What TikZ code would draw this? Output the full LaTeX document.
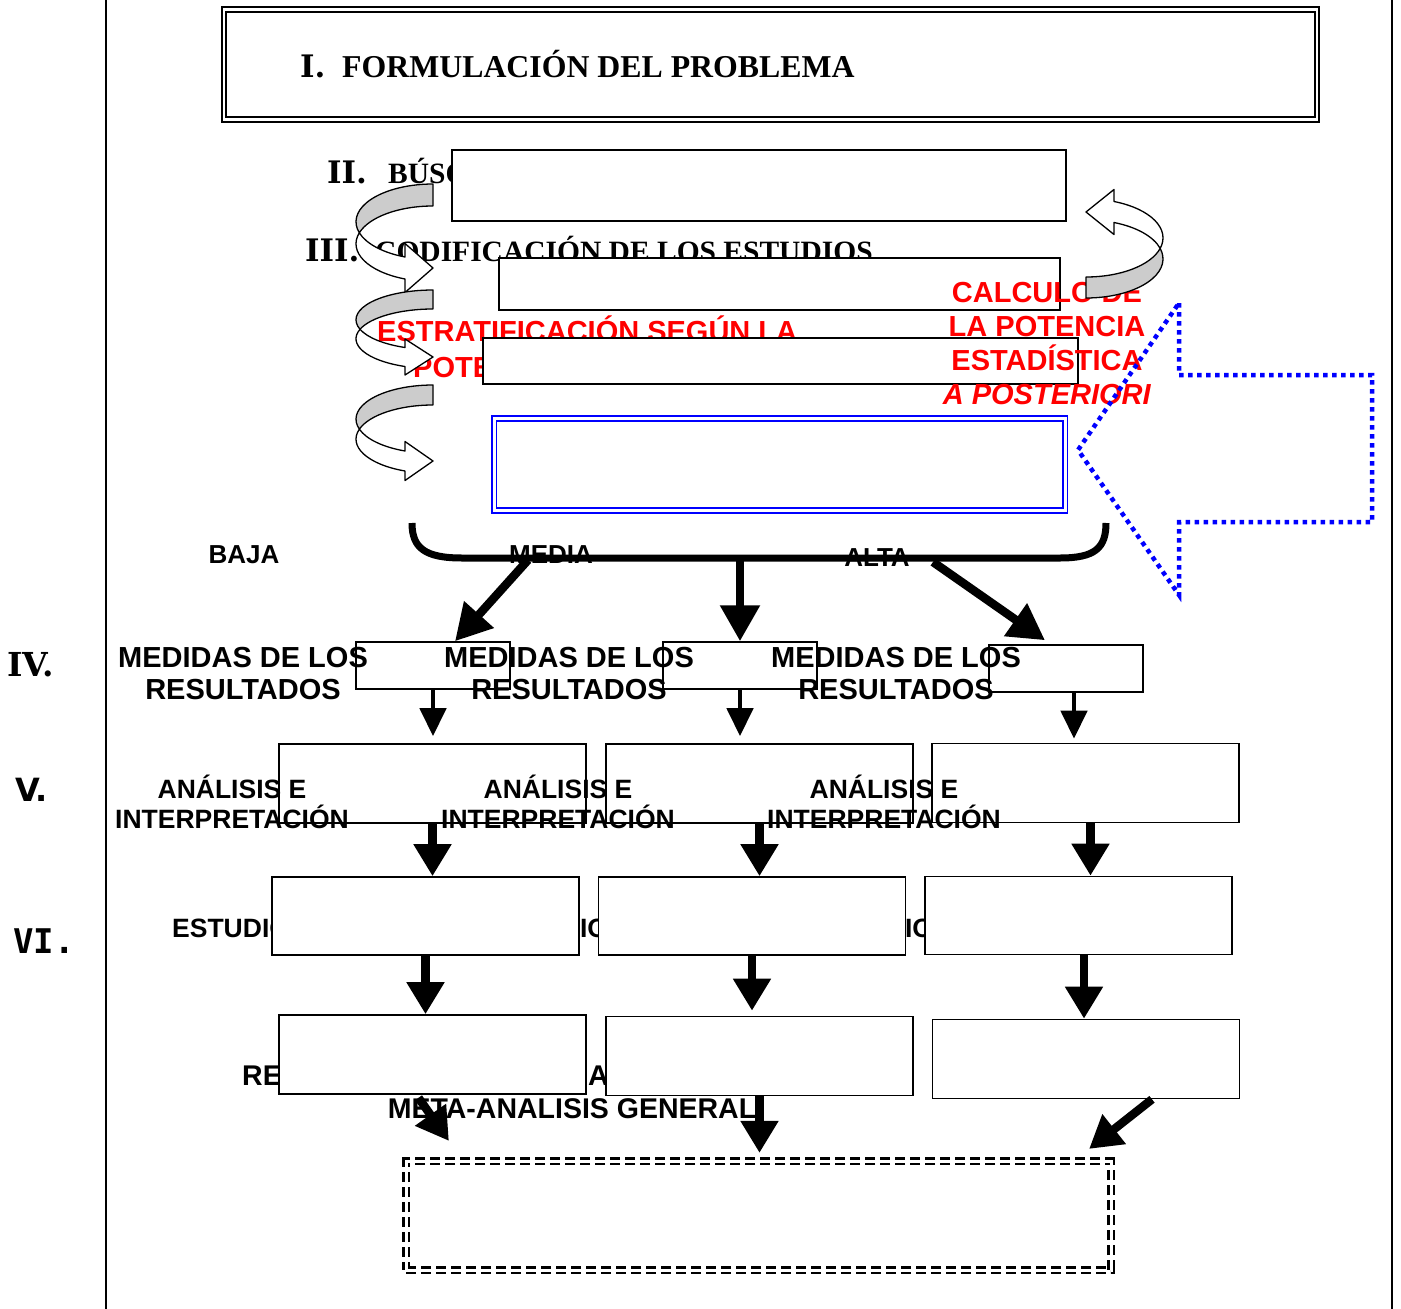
\documentclass[tikz,border=0pt]{standalone}
\usepackage{fontspec}
\setmainfont{Liberation Serif}
\setsansfont{Liberation Sans}
\newfontfamily\numserif{DejaVu Serif}
\newfontfamily\numsans{DejaVu Sans}
\newfontfamily\nummono{DejaVu Sans Mono}
\usetikzlibrary{arrows.meta}

\tikzset{
  frame/.style={draw=black, fill=white, line width=1.8pt, inner sep=0pt},
  cell/.style={frame, line width=1.6pt, minimum width=307pt, minimum height=79pt},
  small/.style={frame, line width=1.5pt, minimum width=154pt, minimum height=47pt},
  numtxt/.style={anchor=base west, inner sep=0pt, font=\numserif\bfseries\fontsize{31}{36}\selectfont},
  headtxt/.style={anchor=base west, inner sep=0pt, font=\bfseries\fontsize{29.5}{34}\selectfont},
  redtxt/.style={text=red, inner sep=0pt, font=\sffamily\bfseries\fontsize{29}{34}\selectfont},
  lbl/.style={inner sep=0pt, align=center, font=\sffamily\bfseries\fontsize{26.5}{30}\selectfont},
  bigarrow/.style={line width=8.5pt, -{Triangle[width=36pt,length=32pt]}},
  smallarrow/.style={line width=4.5pt, -{Triangle[width=26pt,length=28pt]}},
  bentline/.style={draw=black, line width=1.3pt, line join=round},
}

% curved block arrow: #1 tip offset, #2 band width, #3 half head
\newcommand{\bentarrow}[3]{%
  \pgfmathsetmacro{\bnb}{(#1-#2/2)/1.9315}
  \pgfmathsetmacro{\bna}{asin(#2/(2*\bnb))}
  \pgfmathsetmacro{\bnx}{-77*cos(\bna)}
  \pgfmathsetmacro{\bny}{\bnb+#2/2}
  \draw[bentline, fill=gray!40] (0,0)
    arc[start angle=270, end angle=180-\bna, x radius=77, y radius=\bnb]
    arc[start angle=180+\bna, end angle=270, x radius=77, y radius=\bnb] -- cycle;
  \draw[bentline, fill=white] (\bnx,\bny)
    arc[start angle=180+\bna, end angle=111.32, x radius=77, y radius=\bnb]
    -- (-28,#1+#3) -- (0,#1) -- (-28,#1-#3) -- (-28,#1-#2/2)
    arc[start angle=111.32, end angle=180-\bna, x radius=77, y radius=\bnb] -- cycle;
}

\begin{document}
\begin{tikzpicture}[x=1pt, y=-1pt]
  \useasboundingbox (0,0) rectangle (1401,1309);
  \draw[line width=2pt] (106,0) -- (106,1309);
  \draw[line width=2pt] (1392,0) -- (1392,1309);

  % phases I to III
  \node[draw=black, double, line width=1.8pt, double distance=2.6pt, inner sep=0pt,
        minimum width=1093pt, minimum height=110pt] (t1) at (770.5,64.5) {};
  \node[numtxt] (n1) at (300,77) {I.};
  \node[headtxt, font=\bfseries\fontsize{31.8}{36}\selectfont] (h1) at (342,77) {FORMULACIÓN DEL PROBLEMA};

  \node[numtxt] (n2) at (327,183) {II.};
  \node[headtxt] (h2) at (388,183) {BÚSQ};
  \node[frame, minimum width=614pt, minimum height=71pt] (b2) at (759,185.5) {};

  \node[numtxt] (n3) at (305,261) {III.};
  \node[headtxt] (h3) at (375,261) {CODIFICACIÓN DE LOS ESTUDIOS};
  \node[frame, minimum width=561pt, minimum height=52pt] (b3) at (779.5,284) {};

  \node[redtxt, anchor=base west] (s1) at (377,341) {ESTRATIFICACIÓN SEGÚN LA};
  \node[redtxt, anchor=base west] (s2) at (413,377) {POTE};
  \node[frame, minimum width=595pt, minimum height=46pt] (b4) at (780.5,361) {};

  \node[draw=blue, double, line width=1.8pt, double distance=2.8pt, inner sep=0pt,
        minimum width=571pt, minimum height=92pt] (b5) at (779.75,464.5) {};

  \node[redtxt, align=center, anchor=base] (c1) at (1047,404)
    {CALCULO DE\\LA POTENCIA\\ESTADÍSTICA\\\textit{A POSTERIORI}};

  % curved arrows
  \begin{scope}[shift={(433,184)}] \bentarrow{84}{22}{24.5} \end{scope}
  \begin{scope}[shift={(433,290)}] \bentarrow{67}{19}{18} \end{scope}
  \begin{scope}[shift={(433,385)}] \bentarrow{76}{20}{19.5} \end{scope}
  \begin{scope}[shift={(1086,298)}, rotate=180] \bentarrow{86}{21}{22.5} \end{scope}

  \draw[blue, line width=4.5pt, dash pattern=on 4.5pt off 4.5pt]
    (1179,303) -- (1179,375) -- (1372,375) -- (1372,522) -- (1179,522) -- (1179,595) -- (1078,450) -- cycle;

  % strata
  \node[lbl, anchor=base, font=\sffamily\bfseries\fontsize{26}{30}\selectfont] (l1) at (244,563) {BAJA};
  \node[lbl, anchor=base, font=\sffamily\bfseries\fontsize{26}{30}\selectfont] (l2) at (551,563) {MEDIA};
  \node[lbl, anchor=base, font=\sffamily\bfseries\fontsize{26}{30}\selectfont] (l3) at (877,566) {ALTA};
  \draw[line width=7pt] (412,523) .. controls (412,548) and (425,558) .. (462,558)
    -- (1060,558) .. controls (1095,558) and (1106,548) .. (1106,523);
  \coordinate (k1) at (528,560);
  \coordinate (k2) at (740,560);
  \coordinate (k3) at (933,562);

  % phase IV
  \node[numtxt, font=\numserif\bfseries\fontsize{33}{36}\selectfont] (n4) at (7,676) {IV.};
  \node[small] (m1) at (433,665.5) {};
  \node[small] (m2) at (740,665.5) {};
  \node[small] (m3) at (1066,668.5) {};
  \node[lbl, anchor=base, font=\sffamily\bfseries\fontsize{29}{32}\selectfont] (q1) at (243,699) {MEDIDAS DE LOS\\RESULTADOS};
  \node[lbl, anchor=base, font=\sffamily\bfseries\fontsize{29}{32}\selectfont] (q2) at (569,699) {MEDIDAS DE LOS\\RESULTADOS};
  \node[lbl, anchor=base, font=\sffamily\bfseries\fontsize{29}{32}\selectfont] (q3) at (896,699) {MEDIDAS DE LOS\\RESULTADOS};

  % phase V
  \node[numtxt, font=\numsans\bfseries\fontsize{32}{36}\selectfont] (n5) at (15,801) {V.};
  \node[cell] (a1) at (432.5,783.5) {};
  \node[cell] (a2) at (759.5,783.5) {};
  \node[cell] (a3) at (1085.5,783) {};
  \node[lbl, anchor=base] (p1) at (232,828.5) {ANÁLISIS E\\INTERPRETACIÓN};
  \node[lbl, anchor=base] (p2) at (558,828.5) {ANÁLISIS E\\INTERPRETACIÓN};
  \node[lbl, anchor=base] (p3) at (884,828.5) {ANÁLISIS E\\INTERPRETACIÓN};

  % phase VI
  \node[numtxt, font=\nummono\bfseries\fontsize{34}{36}\selectfont] (n6) at (13,953) {VI.};
  \node[lbl, anchor=base west] (u1) at (172,937.5) {ESTUDIO};
  \node[lbl, anchor=base west] (u2) at (490,937.5) {ESTUDIO};
  \node[lbl, anchor=base west] (u3) at (815,937.5) {ESTUDIO};
  \node[cell, minimum height=78pt] (e1) at (425.5,916) {};
  \node[cell, minimum height=78pt] (e2) at (752,916) {};
  \node[cell, minimum height=78pt] (e3) at (1078.5,915.5) {};

  % results
  \node[lbl, anchor=base west, font=\sffamily\bfseries\fontsize{28.5}{32}\selectfont] (g1) at (242,1085) {RE};
  \node[lbl, anchor=base west, font=\sffamily\bfseries\fontsize{28.5}{32}\selectfont] (g2) at (588,1085) {A};
  \node[cell] (r1) at (432.5,1054.5) {};
  \node[cell] (r2) at (759.5,1056) {};
  \node[cell] (r3) at (1086,1059) {};
  \node[lbl, anchor=base, font=\sffamily\bfseries\fontsize{28.5}{32}\selectfont] (g3) at (572,1118) {META-ANALISIS GENERAL};
  \node[draw=black, double, dash pattern=on 10pt off 5pt, line width=2.2pt, double distance=3pt,
        inner sep=0pt, minimum width=705pt, minimum height=109pt] (fin) at (758.5,1215.5) {};

  % arrows
  \draw[bigarrow, -{Triangle[width=38pt,length=36pt]}] (k1) -- ([xshift=22pt]m1.north);
  \draw[bigarrow, -{Triangle[width=38pt,length=36pt]}] (k2) -- (m2.north);
  \draw[bigarrow, -{Triangle[width=38pt,length=36pt]}] (k3) -- ([xshift=-21pt,yshift=4pt]m3.north);

  \draw[smallarrow, shorten >=7pt] (m1.south) -- (m1.south |- a1.north);
  \draw[smallarrow, shorten >=7pt] (m2.south) -- (m2.south |- a2.north);
  \draw[smallarrow, shorten >=4pt] ([xshift=8pt]m3.south) -- ([xshift=8pt]m3.south |- a3.north);

  \draw[bigarrow] (a1.south) -- (a1.south |- e1.north);
  \draw[bigarrow] (a2.south) -- (a2.south |- e2.north);
  \draw[bigarrow] ([xshift=5pt]a3.south) -- ([xshift=5pt]a3.south |- e3.north);

  \draw[bigarrow] (e1.south) -- (e1.south |- r1.north);
  \draw[bigarrow, shorten >=5pt] (e2.south) -- (e2.south |- r2.north);
  \draw[bigarrow] ([xshift=5.5pt]e3.south) -- ([xshift=5.5pt]e3.south |- r3.north);

  \draw[bigarrow] ([xshift=-14pt,yshift=-3pt]r1.south) -- ([xshift=44pt,yshift=19pt]fin.north west);
  \draw[bigarrow, shorten >=7pt] (r2.south) -- (r2.south |- fin.north);
  \draw[bigarrow] ([xshift=66pt]r3.south) -- ([xshift=-23pt,yshift=11pt]fin.north east);
\end{tikzpicture}
\end{document}
